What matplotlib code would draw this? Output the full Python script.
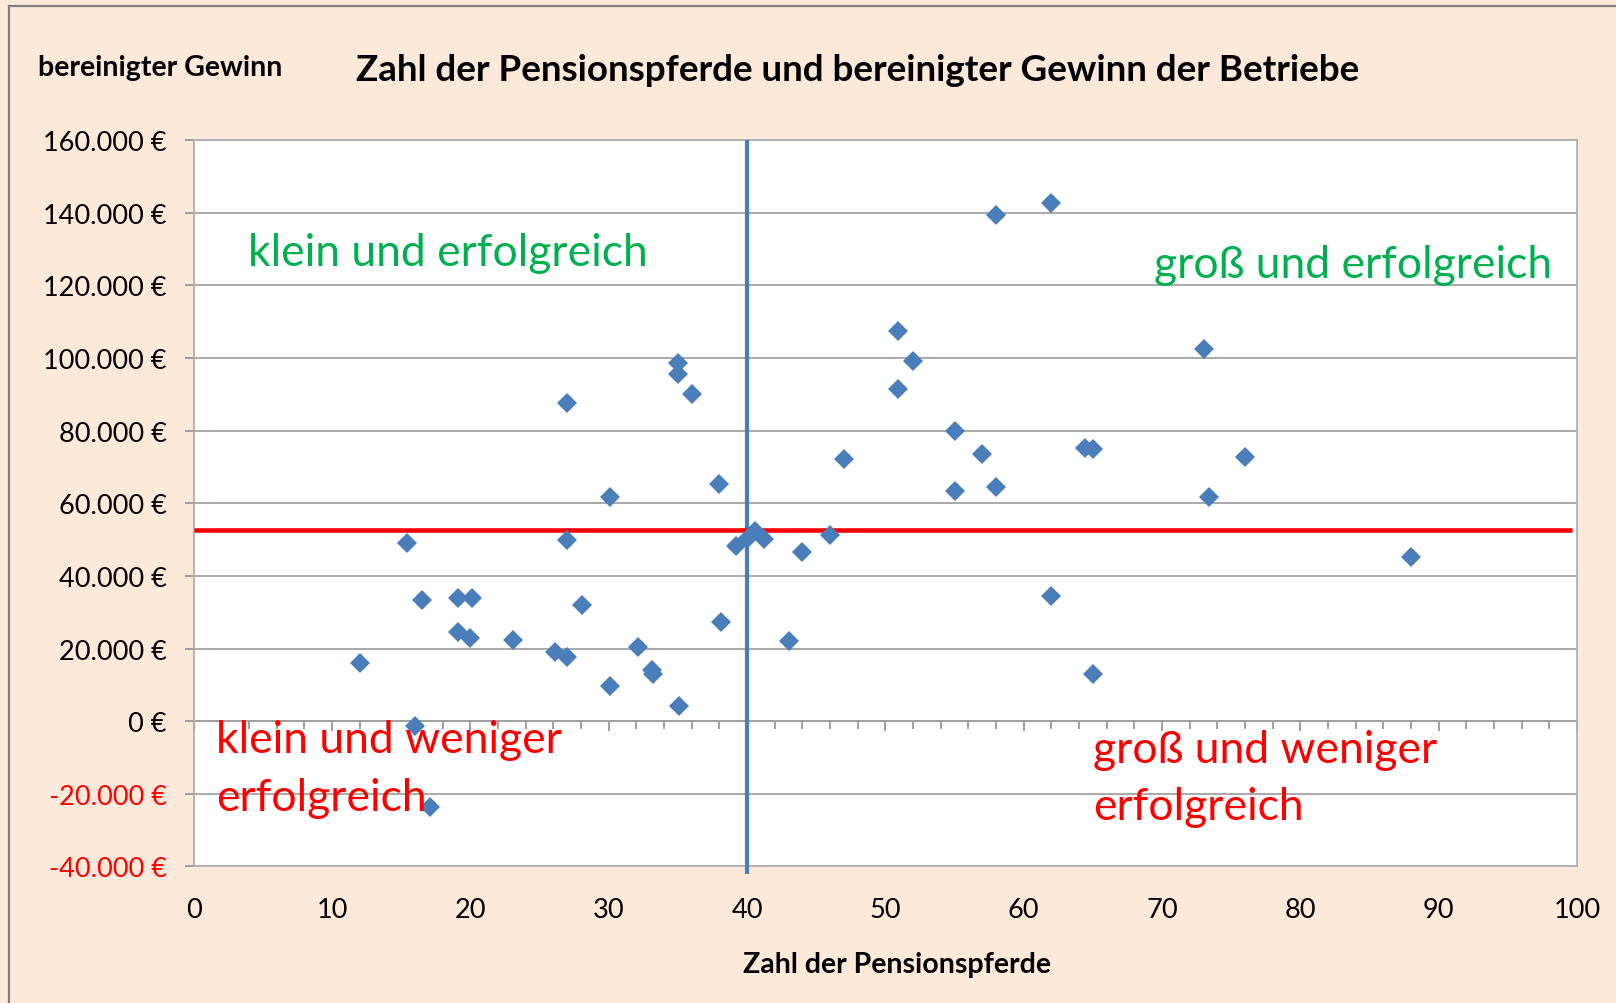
import matplotlib
matplotlib.use("Agg")
import matplotlib.pyplot as plt
from matplotlib.lines import Line2D
from matplotlib.ticker import MultipleLocator

# ---- data -------------------------------------------------------------
horses = [12.0, 15.4, 16.0, 16.5, 17.1, 19.1, 19.1, 20.0, 20.1, 23.1,
          26.1, 27.0, 27.0, 27.0, 28.1, 30.1, 30.1, 32.1, 33.1, 33.2,
          35.1, 35.0, 35.0, 36.0, 38.0, 38.1, 39.2, 40.0, 40.6, 41.2,
          43.0, 44.0, 46.0, 47.0, 50.9, 50.9, 52.0, 55.0, 55.0, 57.0,
          58.0, 58.0, 62.0, 62.0, 64.4, 65.0, 65.0, 73.0, 73.4, 76.0,
          88.0]
profit = [16000, 49000, -1400, 33400, -23600, 33900, 24600, 22900, 33900, 22400,
          19100, 17600, 49800, 87600, 32100, 61700, 9600, 20500, 14100, 13000,
          4300, 98500, 95600, 90100, 65400, 27200, 48200, 50300, 52300, 50300,
          22100, 46700, 51200, 72300, 107500, 91400, 99200, 80000, 63300, 73500,
          139300, 64400, 142600, 34500, 75300, 74900, 13100, 102600, 61700, 72700,
          45300]

x_ticks = [0, 10, 20, 30, 40, 50, 60, 70, 80, 90, 100]
y_ticks = [-40000, -20000, 0, 20000, 40000, 60000, 80000, 100000, 120000, 140000, 160000]

mean_profit = 52600     # red reference line
split_horses = 40       # blue reference line

title = "Zahl der Pensionspferde und bereinigter Gewinn der Betriebe"
y_title = "bereinigter Gewinn"
x_title = "Zahl der Pensionspferde"

FONT = ["Lato", "DejaVu Sans"]
plt.rcParams["font.family"] = FONT

BG = "#FCE9DA"
BLUE = "#4A7EBB"
GREEN = "#00B050"
RED = "#FF0000"


def eur(v):
    s = f"{abs(v):,}".replace(",", ".")
    return ("-" if v < 0 else "") + s + " €"


fig = plt.figure(figsize=(16.16, 10.04), dpi=100, facecolor=BG)
ax = fig.add_axes([0.1199, 0.1360, 0.9759 - 0.1199, 0.8594 - 0.1360])
ax.set_facecolor("white")
ax.set_xlim(0, 100)
ax.set_ylim(-40000, 160000)

ax.set_yticks(y_ticks)
ax.set_yticklabels([eur(v) for v in y_ticks])
for lbl, v in zip(ax.get_yticklabels(), y_ticks):
    lbl.set_color(RED if v < 0 else "black")
ax.set_xticks(x_ticks)
ax.set_xticklabels([str(v) for v in x_ticks])

ax.grid(axis="y", color="#A3A3A3", lw=1.3)
ax.grid(axis="x", visible=False)
ax.set_axisbelow(True)
for s in ax.spines.values():
    s.set_color("#B0B0B0")
    s.set_linewidth(1.3)

ax.tick_params(axis="y", length=6.5, width=1.2, color="#8C8C8C", pad=13,
               labelsize=19.5)
ax.tick_params(axis="x", length=0, pad=22, labelsize=19.5)

# x axis crossing at y = 0
loc = (0 - y_ticks[0]) / (y_ticks[-1] - y_ticks[0])
sec = ax.secondary_xaxis(loc)
sec.set_xticks(x_ticks)
sec.xaxis.set_minor_locator(MultipleLocator(2))
sec.tick_params(which="major", length=7.5, width=1.2, color="#8C8C8C",
                direction="out", labelbottom=False)
sec.tick_params(which="minor", length=5.5, width=1.2, color="#8C8C8C",
                direction="out")
sec.spines["bottom"].set_color("#8C8C8C")
sec.spines["bottom"].set_linewidth(1.3)

# reference lines
ax.plot([split_horses, split_horses], [-0.01, 1.0], color=BLUE, lw=3.0,
        transform=ax.get_xaxis_transform(), clip_on=False, zorder=3,
        solid_capstyle="butt")
ax.hlines(mean_profit, 0, 99.6, color=RED, lw=3.3, zorder=3)

# points
ax.plot(horses, profit, linestyle="none", marker="D", markersize=10,
        color=BLUE, markeredgewidth=0, zorder=4)

# quadrant labels
ax.text(3.9, 129200, "klein und erfolgreich", color=GREEN, fontsize=32,
        va="center", ha="left", zorder=5)
ax.text(98.2, 125800, "groß und erfolgreich", color=GREEN, fontsize=32,
        va="center", ha="right", zorder=5)
ax.text(1.6, -13000, "klein und weniger\nerfolgreich", color=RED, fontsize=32,
        va="center", ha="left", linespacing=1.5, zorder=5)
ax.text(65.0, -15600, "groß und weniger\nerfolgreich", color=RED, fontsize=32,
        va="center", ha="left", linespacing=1.5, zorder=5)

# titles
fig.text(0.531, 0.930, title, ha="center", va="center", fontsize=26.5,
         fontweight="bold")
fig.text(0.0235, 0.932, y_title, ha="left", va="center", fontsize=20.5,
         fontweight="bold")
fig.text(0.555, 0.0392, x_title, ha="center", va="center", fontsize=20.5,
         fontweight="bold")

# chart-area border (left and top)
fig.add_artist(Line2D([8.5 / 1616, 8.5 / 1616], [0, 1 - 7 / 1004],
                      color="#808080", lw=1.6, transform=fig.transFigure))
fig.add_artist(Line2D([8.5 / 1616, 1], [1 - 7 / 1004, 1 - 7 / 1004],
                      color="#808080", lw=1.6, transform=fig.transFigure))

fig.savefig("out.png", dpi=100, facecolor=BG)
